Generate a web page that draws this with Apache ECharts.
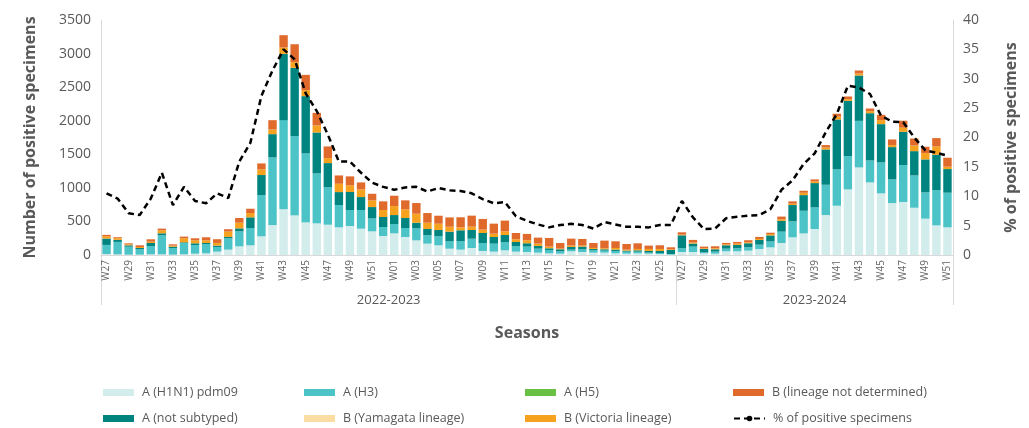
<!DOCTYPE html>
<html>
<head>
<meta charset="utf-8">
<script src="https://cdn.jsdelivr.net/npm/echarts@6/dist/echarts.min.js"></script>
<style>html,body{margin:0;padding:0;background:#fff;}#c{width:1029px;height:428px;}</style>
</head>
<body>
<div id="c"></div>
<script>
var weeks = ["W27","W28","W29","W30","W31","W32","W33","W34","W35","W36","W37","W38","W39","W40","W41","W42","W43","W44","W45","W46","W47","W48","W49","W50","W51","W52",
"W01","W02","W03","W04","W05","W06","W07","W08","W09","W10","W11","W12","W13","W14","W15","W16","W17","W18","W19","W20","W21","W22","W23","W24","W25","W26",
"W27","W28","W29","W30","W31","W32","W33","W34","W35","W36","W37","W38","W39","W40","W41","W42","W43","W44","W45","W46","W47","W48","W49","W50","W51"];
var seasons = ["2022-2023","2023-2024"];
var seasonLengths = [52, 25];

var h1n1 = [15,10,5,5,10,10,5,10,20,25,50,80,129,144,278,446,680,590,486,471,451,412,432,392,352,283,
322,268,218,169,144,94,80,104,60,50,70,50,45,35,25,20,55,45,35,35,25,20,25,20,15,5,
45,45,25,20,55,55,65,89,114,179,263,322,387,595,734,977,1304,1081,918,774,789,704,541,441,412];
var h3 = [135,185,119,79,124,283,99,169,129,139,70,169,223,258,615,1007,1329,1180,1027,744,556,332,238,278,193,134,
139,134,179,124,134,109,124,139,119,119,119,80,80,60,50,35,25,40,35,30,35,30,25,15,15,10,
55,80,15,30,40,45,50,65,89,169,238,337,322,451,541,496,694,327,461,352,551,481,392,526,516];
var h5 = [0,0,0,0,0,0,0,0,0,0,0,0,0,0,0,0,0,0,0,0,0,0,0,0,0,0,
0,0,0,0,0,0,0,0,0,0,0,0,0,0,0,0,0,0,0,0,0,0,0,0,0,0,
0,0,0,0,0,0,0,0,0,0,0,0,0,0,0,0,0,0,0,0,0,0,0,0,0];
var notSubtyped = [95,30,20,20,45,30,20,10,25,15,20,20,45,159,298,347,987,1017,853,610,362,193,268,193,169,149,
134,149,84,94,94,144,164,129,149,99,109,64,50,40,25,30,40,40,20,20,20,15,20,25,30,60,
193,45,50,35,50,50,60,70,89,159,243,233,362,526,744,823,675,704,570,481,496,362,491,526,352];
var yamagata = [0,0,0,0,0,0,0,0,0,0,0,0,0,0,0,0,0,0,0,0,0,0,0,0,0,0,
0,0,0,0,0,0,0,0,0,0,0,0,0,0,0,0,0,0,0,0,0,0,0,0,0,0,
0,0,0,0,0,0,0,0,0,0,0,0,0,0,0,0,0,0,0,0,0,0,0,0,0];
var victoria = [35,25,15,15,20,45,15,60,45,40,40,80,84,64,84,69,94,84,89,104,74,124,99,114,99,104,
134,129,134,94,94,74,45,50,50,50,55,40,45,35,25,10,20,15,15,15,25,15,20,30,30,10,
10,15,10,15,15,20,15,15,20,25,20,35,25,30,45,25,30,30,60,30,60,84,94,124,35];
var bNotDetermined = [20,15,15,25,35,25,20,25,30,45,55,35,70,64,89,139,184,268,228,188,174,124,134,104,99,129,
154,134,159,144,119,139,149,164,159,149,159,94,94,89,129,84,104,99,74,114,99,84,84,50,55,30,
35,40,25,30,20,25,30,30,20,40,35,30,30,35,40,40,45,40,79,84,104,104,94,124,134];
var pctPositive = [10.5,9.6,7.1,6.8,9.6,14.0,8.5,11.6,9.2,8.8,10.5,9.7,15.9,19.1,27.1,31.4,35.0,33.3,27.5,24.5,20.5,15.9,15.9,14.0,12.3,11.6,
11.1,11.5,11.6,10.8,11.4,11.0,10.9,10.5,9.5,8.8,9.0,6.6,5.8,5.2,4.7,5.1,5.3,5.1,4.5,5.6,5.2,4.8,4.8,4.7,5.1,5.1,
9.2,6.4,4.4,4.5,6.25,6.5,6.7,6.8,7.8,11.1,12.7,15.5,17.3,20.9,24.0,28.8,28.5,27.4,23.7,22.7,22.6,20.0,17.8,17.4,16.9];

var leftTicks = [0,500,1000,1500,2000,2500,3000,3500];
var rightTicks = [0,5,10,15,20,25,30,35,40];

var FONT = "'Open Sans', 'Noto Sans', sans-serif";
var GREY = '#595959';
var AXIS = '#d9d9d9';

var seriesDefs = [
  {name:'A (H1N1) pdm09', data:h1n1, color:'#d3ecec'},
  {name:'A (H3)', data:h3, color:'#4cc3c7'},
  {name:'A (H5)', data:h5, color:'#6abf45'},
  {name:'A (not subtyped)', data:notSubtyped, color:'#00847f'},
  {name:'B (Yamagata lineage)', data:yamagata, color:'#fbdda3'},
  {name:'B (Victoria lineage)', data:victoria, color:'#f6a21e'},
  {name:'B (lineage not determined)', data:bNotDetermined, color:'#df6a2b'}
];

var series = seriesDefs.map(function(s){
  return {
    name: s.name, type:'bar', stack:'total', data:s.data,
    xAxisIndex:0, yAxisIndex:0,
    barCategoryGap:'24%',
    itemStyle:{color:s.color},
    emphasis:{disabled:true}
  };
});
series.push({
  name:'% of positive specimens', type:'line', data:pctPositive,
  xAxisIndex:0, yAxisIndex:1, symbol:'none', smooth:false,
  lineStyle:{color:'#000', width:2.5, type:[6,4]},
  itemStyle:{color:'#000'},
  z:10
});

var bounds = [0], centers = [];
var acc = 0;
seasonLengths.forEach(function(n){ centers.push(acc + n/2); acc += n; bounds.push(acc); });

function lg(left, top, name){
  var item = name === '% of positive specimens' ? {name:name} : {name:name, icon:'rect'};
  return {
    orient:'horizontal', left:left, top:top, itemWidth:31, itemHeight:7, padding:0,
    textStyle:{color:GREY, fontSize:12.5, fontFamily:FONT, padding:[0,0,0,3]},
    selectedMode:false, data:[item]
  };
}

var chart = echarts.init(document.getElementById('c'), null, {renderer:'canvas'});
chart.setOption({
  animation:false,
  backgroundColor:'#fff',
  textStyle:{fontFamily:FONT},
  grid:{left:101, right:76, top:20, bottom:173, containLabel:false},
  legend:[
    lg(103, 386, 'A (H1N1) pdm09'),
    lg(304, 386, 'A (H3)'),
    lg(525, 386, 'A (H5)'),
    lg(733, 386, 'B (lineage not determined)'),
    lg(103, 412, 'A (not subtyped)'),
    lg(304, 412, 'B (Yamagata lineage)'),
    lg(525, 412, 'B (Victoria lineage)'),
    lg(733, 412, '% of positive specimens')
  ],
  xAxis:[
    {
      type:'category', data:weeks, position:'bottom',
      axisLine:{lineStyle:{color:AXIS, width:1}},
      axisTick:{show:false},
      axisLabel:{interval:1, rotate:90, fontSize:10, color:'#666', fontFamily:FONT, margin:5},
      name:'Seasons', nameLocation:'middle', nameGap:70,
      nameTextStyle:{fontSize:16, fontWeight:'bold', color:GREY, fontFamily:FONT}
    },
    {
      type:'value', min:0, max:weeks.length, position:'bottom',
      axisLine:{show:false},
      splitLine:{show:false},
      axisTick:{show:true, customValues:bounds, length:50, inside:false, lineStyle:{color:AXIS, width:1}},
      axisLabel:{customValues:centers, margin:39, fontSize:13, color:GREY, fontFamily:FONT,
        formatter:function(v){ var i = centers.indexOf(v); return i >= 0 ? seasons[i] : ''; }}
    }
  ],
  yAxis:[
    {
      type:'value', min:leftTicks[0], max:leftTicks[leftTicks.length-1], interval:500,
      axisLine:{show:true, lineStyle:{color:AXIS}},
      axisTick:{show:false}, splitLine:{show:false},
      axisLabel:{fontSize:14, color:GREY, fontFamily:FONT, margin:10, formatter:function(v){return String(v);}},
      name:'Number of positive specimens', nameLocation:'middle', nameGap:63,
      nameTextStyle:{fontSize:16, fontWeight:'bold', color:GREY, fontFamily:FONT}
    },
    {
      type:'value', min:rightTicks[0], max:rightTicks[rightTicks.length-1], interval:5,
      position:'right',
      axisLine:{show:true, lineStyle:{color:AXIS}},
      axisTick:{show:false}, splitLine:{show:false},
      axisLabel:{fontSize:14, color:GREY, fontFamily:FONT, margin:10, formatter:function(v){return String(v);}},
      name:'% of positive specimens', nameLocation:'middle', nameGap:50,
      nameRotate:90,
      nameTextStyle:{fontSize:16, fontWeight:'bold', color:GREY, fontFamily:FONT}
    }
  ],
  series:series
});
</script>
</body>
</html>
